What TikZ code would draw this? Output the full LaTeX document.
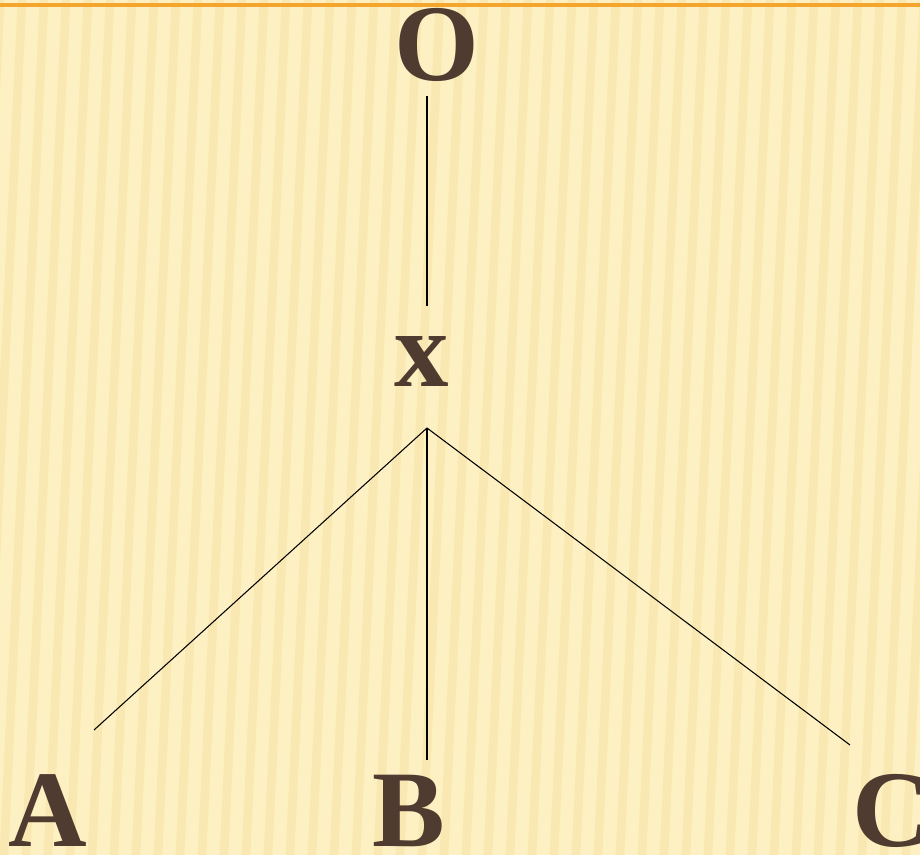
\documentclass[tikz,border=0pt]{standalone}
\usepackage{fontspec}
\setmainfont{Liberation Serif}[BoldFont={Liberation Serif Bold}]
\usepackage{tikz}
\usetikzlibrary{calc}

\definecolor{paper}{HTML}{FDF0C2}
\definecolor{stripe}{HTML}{F3DE9C}
\definecolor{rule}{HTML}{F4A52E}
\definecolor{ink}{HTML}{4F3B2F}

\begin{document}
\begin{tikzpicture}[
		x=0.02cm, y=-0.02cm,
		letter/.style = {font=\fontsize{62}{70}\selectfont\bfseries, text=ink, inner sep=0pt, anchor=base},
		edge/.style = {draw=black, line width=0.6pt}
	]
	\useasboundingbox (0,0) rectangle (920,855);
	% background
	\begin{scope}
		\clip (0,0) rectangle (920,855);
		\fill[paper] (0,0) rectangle (920,855);
		\foreach \s in {0,22,...,960}
			\draw[stripe, line width=5pt, opacity=0.4] (\s,0) -- (\s-40,855);
	\end{scope}
	\draw[rule, line width=1.8pt] (0,5) -- (920,5);

	\node[letter] (O) at (437,81)  {O};
	\node[letter] (x) at (422,386) {x};
	\node[letter] (A) at (48,846)  {A};
	\node[letter] (B) at (409,846) {B};
	\node[letter] (C) at (892,846) {C};

	\coordinate (otop) at (427,96);
	\coordinate (xtop) at (427,306);
	\coordinate (hub)  at (427,428);
	\coordinate (aend) at (94,730);
	\coordinate (bend) at (427,760);
	\coordinate (cend) at (850,745);

	\draw[edge] (otop) -- (xtop);
	\draw[edge] (hub) -- (aend);
	\draw[edge] (hub) -- (bend);
	\draw[edge] (hub) -- (cend);
\end{tikzpicture}
\end{document}
